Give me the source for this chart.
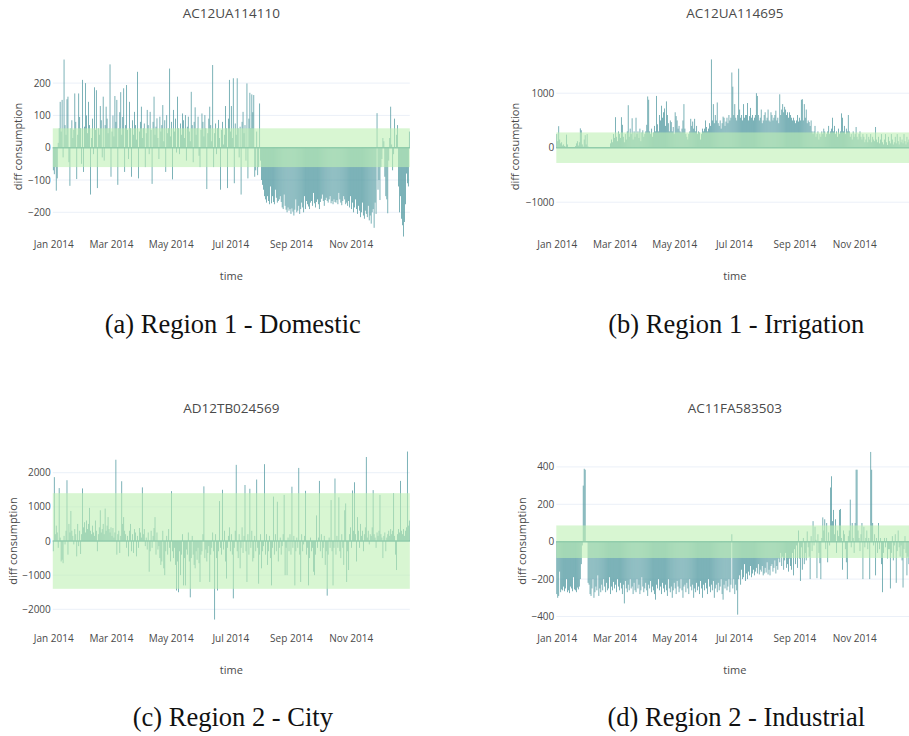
<!DOCTYPE html>
<html>
<head>
<meta charset="utf-8">
<script src="https://cdn.jsdelivr.net/npm/d3@7"></script>
<style>
  body { margin: 0; background: #fff; }
  svg { display: block; }
</style>
</head>
<body>
<div id="chart"></div>
<script>
// daily diff consumption, Jan 1 - Dec 31 2014, one array per meter
const domestic = [
  -70, -82, -60, -133, -95, 15, 60, 142, 50, 148,
  -30, 273, 70, 40, 150, 158, -45, -118, 60, 85,
  30, 55, 168, 80, -97, 40, 168, 95, 60, -50,
  210, -75, 65, 200, 100, 45, 142, 70, -145, 30,
  90, -20, 187, 55, 178, -125, 60, 40, 129, 85,
  -30, 158, -40, 70, 127, 90, 45, 60, 258, -90,
  50, 100, 35, 160, 80, 148, -115, 60, 110, 172,
  40, 95, 184, -75, 70, 194, 55, -35, 142, 60,
  -90, 85, 40, 111, 70, 25, 235, -95, 50, 80,
  127, 30, 60, 75, -60, 45, 117, 70, -20, 111,
  55, -112, 80, 158, 40, 65, 91, 30, -35, 96,
  50, 70, 132, 20, 85, -75, 101, 45, 60, 245,
  35, 80, -98, 117, 50, 90, -15, 158, 60, -20,
  75, 40, 106, 85, 30, 101, -40, 65, 96, 50,
  20, 173, 70, -45, 80, 125, 40, 60, 96, -25,
  -60, 55, 106, 80, 35, 101, 60, -128, 45, 90,
  127, 70, 20, 256, -60, 45, 75, -20, 60, 86,
  30, -130, 55, 80, 10, 40, 129, 60, -125, 90,
  210, 50, 129, 30, 215, -110, 75, 40, 215, 60,
  -30, 65, -145, 80, 111, 45, 70, -40, 199, -95,
  90, 170, 60, 165, 110, 163, -90, -70, 50, -85,
  -60, 137, -40, -100, -115, -130, -150, -160, -170, -150,
  -165, -175, -120, -172, -150, -168, -175, -130, -155, -170,
  -165, -160, -150, -168, -185, -190, -145, -180, -192, -200,
  -185, -195, -190, -205, -188, -198, -210, -192, -160, -200,
  -195, -180, -205, -190, -170, -185, -200, -150, -190, -165,
  -175, -182, -190, -170, -165, -180, -140, -172, -185, -168,
  -160, -175, -190, -168, -158, -145, -165, -180, -162, -155,
  -165, -170, -160, -150, -172, -165, -175, -160, -168, -170,
  -162, -175, -140, -160, -170, -178, -165, -150, -160, -175,
  -170, -180, -165, -185, -150, -190, -170, -200, -185, -160,
  -190, -205, -180, -195, -215, -200, -170, -210, -220, -195,
  -205, -215, -180, -225, -210, -235, -200, -190, -248, -170,
  -205, 107, -130, -100, -162, -60, -35, 30, 20, -90,
  -150, -160, -203, -40, 30, 127, 10, -70, -20, 90,
  0, 40, 70, -120, -200, -150, -220, -240, -275, -230,
  -175, -80, -110, -120, 50
]

const irrigation = [
  250, 120, 395, 150, 80, 100, 40, 60, 30, 20,
  240, 60, 0, 0, 0, 0, 0, 0, 0, 30,
  80, 120, 40, 100, 355, 320, 60, 20, 150, 230,
  60, 250, 20, 0, 0, 0, 0, 0, 0, 0,
  0, 0, 0, 0, 0, 0, 0, 0, 0, 0,
  0, 0, 0, 0, 0, 80, 150, 100, 250, 180,
  560, 200, 120, 300, 250, 180, 560, 420, 200, 100,
  250, 150, 300, 780, 200, 350, 250, 540, 150, 300,
  200, 550, 250, 300, 180, 350, 120, 280, 320, 200,
  250, 300, 420, 940, 880, 300, 250, 350, 200, 280,
  400, 300, 950, 430, 300, 600, 500, 770, 550, 650,
  720, 400, 850, 600, 450, 300, 500, 470, 300, 380,
  250, 650, 580, 500, 350, 400, 300, 280, 350, 500,
  800, 350, 250, 200, 150, 250, 300, 530, 400, 480,
  350, 530, 300, 400, 250, 300, 280, 150, 250, 350,
  300, 350, 500, 380, 300, 350, 450, 400, 1620, 500,
  800, 450, 600, 500, 830, 450, 400, 500, 350, 450,
  570, 550, 400, 480, 550, 450, 600, 500, 550, 1380,
  1120, 600, 800, 550, 500, 600, 1450, 700, 550, 600,
  500, 800, 550, 600, 600, 820, 500, 580, 730, 550,
  600, 500, 550, 600, 1000, 950, 600, 500, 550, 700,
  450, 500, 600, 650, 500, 550, 700, 500, 480, 650,
  600, 500, 550, 600, 680, 500, 550, 450, 980, 600,
  700, 800, 650, 750, 700, 600, 650, 550, 650, 600,
  550, 500, 550, 500, 450, 500, 600, 480, 550, 500,
  880, 890, 500, 800, 550, 700, 450, 500, 470, 400,
  500, 300, 250, 300, 400, 200, 250, 300, 150, 250,
  200, 300, 250, 350, 300, 200, 250, 300, 400, 250,
  300, 350, 550, 300, 400, 250, 300, 200, 350, 250,
  300, 630, 550, 300, 400, 250, 350, 300, 600, 300,
  200, 250, 150, 300, 200, 250, 380, 200, 150, 250,
  300, 200, 150, 250, 200, 100, 150, 250, 100, 200,
  150, 250, 100, 200, 150, 120, 380, 150, 100, 200,
  80, 150, 250, 100, 60, 150, 250, 100, 50, 200,
  120, 80, 250, 150, 60, 100, 200, 80, 250, 120,
  60, 200, 100, 150, 80, 250, 120, 60, 200, 100,
  150, 80, 200, 120, 100
]

const city = [
  -300, 1870, 200, 450, 250, -200, 1550, 100, -600, -550,
  -650, 150, -100, 300, 1780, -400, 500, 250, 880, 300,
  150, -100, 350, 200, -450, 500, -150, 300, -380, 200,
  1540, 400, 550, 250, 600, 350, 500, 970, 300, 200,
  450, 250, 150, 600, 300, -300, 200, 400, 900, 250,
  350, 500, 200, 950, 300, 450, 700, 350, 250, 400,
  150, 380, 100, 250, 2380, -400, 200, 300, -350, 150,
  1750, 500, 700, 300, 200, -200, 150, -450, 300, 500,
  -300, 200, -350, 350, 250, -450, 150, -200, 380, 250,
  100, 1570, 200, 350, -150, 100, -250, 250, -900, -300,
  300, -200, 150, 380, 700, -400, 250, -250, -150, -500,
  -700, -600, 300, -800, -1000, -300, 150, -400, 350, -200,
  -600, 1460, -300, -500, -200, -700, -1450, -600, -1500, -300,
  -1000, -400, 200, -1300, -500, -1300, -250, -400, 250, -600,
  -1650, -500, 150, -400, -700, -800, -300, -550, -200, -650,
  -1200, -400, -300, 200, 1600, -500, -250, -600, -350, -150,
  -1200, -400, -200, 250, -300, -2300, 200, -500, -1450, -300,
  1170, -200, -400, 1500, -250, 300, -600, -1100, -200, 150,
  400, -300, 200, -400, -1680, -200, 300, 2230, -300, -500,
  200, -800, -200, 400, -350, 150, 1640, -300, -1200, 200,
  -400, 1530, -200, 300, -600, -500, 150, -300, 1800, -200,
  -1250, -400, 200, -800, -300, -150, 2250, -400, 200, -700,
  -300, 150, -500, -1300, -200, 1300, -400, 200, -300, 1150,
  -600, -200, 100, -400, -150, 200, 1350, -1000, -200, -1000,
  100, -300, 200, -400, 1590, -200, 150, -1300, -300, 100,
  -200, 2140, -400, -1200, 200, -300, -100, 150, 1470, -400,
  -200, -1300, -500, 100, -300, -200, -900, -1000, -400, 750,
  -200, 100, 1760, -300, 200, -500, -200, 150, -700, -300,
  -1600, -400, 100, -200, 1200, -300, -1300, -200, 1830, -400,
  150, -200, 1280, -300, -500, 200, -200, -700, 900, 1100,
  -1200, -300, -850, 200, 400, -200, 1480, 300, 1720, 200,
  -600, 700, 300, -200, 500, 150, 300, -300, 200, 400,
  2460, 100, 300, -100, 200, 150, 400, 1490, 200, 100,
  -200, 250, 150, 300, 1350, 200, 100, -500, 150, 250,
  -300, 100, 200, 300, 150, 350, 200, 300, 1400, 150,
  -400, -850, 200, 350, 250, 1760, 300, 200, 350, 150,
  300, 400, 2620, 450, 600
]

const industrial = [
  -280, -300, -290, -160, -270, -255, -260, -240, -265, -250,
  -200, -270, -260, -275, -240, -250, -265, -190, -255, -260,
  -270, -245, -255, -240, -200, -120, -20, 300, 390, 385,
  0, 0, -220, -230, -280, -290, -250, -200, -300, -270,
  -240, -260, -180, -290, -250, -270, -230, -260, -200, -240,
  -270, -220, -260, -250, -190, -280, -240, -260, -215, -250,
  -230, -270, -200, -240, -260, -220, -250, -280, -230, -330,
  -210, -250, -270, -230, -260, -200, -250, -240, -280, -220,
  -260, -270, -200, -250, -230, -280, -260, -190, -240, -270,
  -250, -220, -260, -290, -230, -250, -210, -270, -240, -260,
  -280, -310, -230, -250, -200, -260, -240, -280, -220, -250,
  -270, -230, -260, -290, -200, -250, -270, -240, -300, -260,
  -220, -250, -280, -210, -240, -270, -250, -200, -260, -300,
  -240, -230, -270, -220, -250, -280, -200, -240, -260, -230,
  -300, -250, -270, -220, -260, -240, -280, -210, -250, -300,
  -230, -260, -220, -250, -280, -200, -240, -270, -230, -260,
  -210, -300, -250, -230, -270, -220, -260, -240, -200, -280,
  -310, -230, -250, -210, -260, -240, -200, -270, -230, 40,
  -250, -200, -280, -230, -260, -390, -200, -180, -230, -150,
  -200, -190, -120, -210, -170, -200, -160, -180, -130, -190,
  -170, -150, -180, -160, -140, -170, -120, -175, -150, -160,
  -130, -180, -170, -140, -165, -110, -175, -150, -180, -130,
  -120, -160, -140, -100, -170, -130, -150, -90, -110, -60,
  -130, -80, -150, -100, -60, -140, -120, -160, -90, -130,
  -150, -60, -180, -40, -120, -20, -140, 60, -90, -210,
  -30, -150, 20, -120, -60, -100, 55, -30, -80, -200,
  30, -50, 110, -20, 80, 10, -195, 40, -60, -115,
  -200, 20, 130, 60, 120, -40, 100, -110, 50, -20,
  290, 350, 110, 170, 40, 120, -60, 60, 30, 170,
  175, 20, -150, 60, 40, -40, -110, -200, 30, 60,
  225, -30, 100, 20, -60, 100, 385, 385, 60, 20,
  -50, 40, 100, -200, 80, -30, 20, 60, -40, 20,
  -200, 480, 385, 100, -20, 40, -180, 20, -60, 100,
  -40, 20, -120, -270, -60, 20, -30, 20, -90, -40,
  -40, -250, -60, 30, -100, -20, 40, -220, -50, 60,
  -30, -80, -20, -100, -245, -40, 30, -60, -180, -80,
  -120, -150, -40, 20, -100
]

const meterIds = ['AC12UA114110', 'AC12UA114695', 'AD12TB024569', 'AC11FA583503']
const captions = [
  '(a) Region 1 - Domestic',
  '(b) Region 1 - Irrigation',
  '(c) Region 2 - City',
  '(d) Region 2 - Industrial'
]
const thresholds = [60, 280, 1400, 87]
const yTickValues = [
  [-200, -100, 0, 100, 200],
  [-1000, 0, 1000],
  [-2000, -1000, 0, 1000, 2000],
  [-400, -200, 0, 200, 400]
]
const xTickLabels = ['Jan 2014', 'Mar 2014', 'May 2014', 'Jul 2014', 'Sep 2014', 'Nov 2014']
const startDate = '2014-01-01'

// where each plotly panel sits on the page
const frames = [
  { left: 52.8, top: 55, bottom: 238, zero: 147.7, unit: 0.323, titleX: 18, capY: 333 },
  { left: 556.3, top: 55, bottom: 238, zero: 147.7, unit: 0.0545, titleX: 515, capY: 333 },
  { left: 52.8, top: 450, bottom: 632, zero: 541, unit: 0.03415, titleX: 13, capY: 726 },
  { left: 556.3, top: 450, bottom: 632, zero: 541.7, unit: 0.187, titleX: 521.7, capY: 726 }
]
const plotWidth = 357

const width = 909
const height = 736

const barColor = '#4f989f'
const bandColor = '#bef0b4'
const gridColor = '#ebf0f8'
const textColor = '#4a4a4a'

const parseDay = d3.timeParse('%Y-%m-%d')
const parseTick = d3.timeParse('%b %Y')
const day0 = parseDay(startDate)

const svg = d3
  .select('#chart')
  .append('svg')
  .attr('width', width)
  .attr('height', height)

const series = [domestic, irrigation, city, industrial]

series.forEach((values, i) => {
  const f = frames[i]
  const g = svg.append('g')

  const xPositionScale = d3
    .scaleTime()
    .domain([d3.timeHour.offset(day0, -12), d3.timeHour.offset(d3.timeDay.offset(day0, 364), 12)])
    .range([f.left, f.left + plotWidth])

  const yPositionScale = d3
    .scaleLinear()
    .domain([-(f.bottom - f.zero) / f.unit, (f.zero - f.top) / f.unit])
    .range([f.bottom, f.top])

  const right = f.left + plotWidth
  const dayPx = plotWidth / 365
  const datapoints = values.map((v, k) => ({ date: d3.timeDay.offset(day0, k), value: v }))

  // gridlines
  g.selectAll('.grid')
    .data(yTickValues[i])
    .enter()
    .append('line')
    .attr('x1', f.left)
    .attr('x2', right)
    .attr('y1', d => yPositionScale(d))
    .attr('y2', d => yPositionScale(d))
    .attr('stroke', gridColor)
    .attr('stroke-width', 1)

  // zero line
  g.append('line')
    .attr('x1', f.left)
    .attr('x2', right)
    .attr('y1', yPositionScale(0))
    .attr('y2', yPositionScale(0))
    .attr('stroke', barColor)
    .attr('stroke-width', 1.5)

  g.selectAll('.bar')
    .data(datapoints)
    .enter()
    .append('rect')
    .attr('class', 'bar')
    .attr('x', d => xPositionScale(d.date) - dayPx * 0.38)
    .attr('width', dayPx * 0.76)
    .attr('y', d => Math.min(yPositionScale(d.value), yPositionScale(0)))
    .attr('height', d => Math.abs(yPositionScale(d.value) - yPositionScale(0)))
    .attr('fill', barColor)

  // normal range band drawn over the bars
  g.append('rect')
    .attr('x', f.left)
    .attr('width', plotWidth)
    .attr('y', yPositionScale(thresholds[i]))
    .attr('height', yPositionScale(-thresholds[i]) - yPositionScale(thresholds[i]))
    .attr('fill', bandColor)
    .attr('opacity', 0.6)

  // y tick labels
  g.selectAll('.ytick')
    .data(yTickValues[i])
    .enter()
    .append('text')
    .attr('x', f.left - 2)
    .attr('y', d => yPositionScale(d))
    .attr('dy', '0.35em')
    .attr('text-anchor', 'end')
    .attr('font-family', 'Open Sans, sans-serif')
    .attr('font-size', 10)
    .attr('fill', textColor)
    .text(d => (d < 0 ? '\u2212' + Math.abs(d) : d))

  // x tick labels
  const xAxis = d3
    .axisBottom(xPositionScale)
    .tickValues(xTickLabels.map(parseTick))
    .tickFormat(d3.timeFormat('%b %Y'))
    .tickSize(0)
    .tickPadding(0)
  const ax = g
    .append('g')
    .attr('transform', 'translate(0,' + (f.bottom + 9.5) + ')')
    .call(xAxis)
  ax.select('.domain').remove()
  ax.selectAll('text')
    .attr('dy', 0)
    .attr('y', 0)
    .attr('font-family', 'Open Sans, sans-serif')
    .attr('font-size', 10)
    .attr('fill', textColor)

  // titles
  g.append('text')
    .attr('x', f.left + plotWidth / 2)
    .attr('y', f.top - 37)
    .attr('text-anchor', 'middle')
    .attr('font-family', 'Open Sans, sans-serif')
    .attr('font-size', 13.5)
    .attr('fill', textColor)
    .text(meterIds[i])

  g.append('text')
    .attr('x', f.left + plotWidth / 2)
    .attr('y', f.bottom + 41.5)
    .attr('text-anchor', 'middle')
    .attr('font-family', 'Open Sans, sans-serif')
    .attr('font-size', 11)
    .attr('fill', textColor)
    .text('time')

  g.append('text')
    .attr('transform', 'translate(' + f.titleX + ',' + (f.top + f.bottom) / 2 + ') rotate(-90)')
    .attr('dy', '0.35em')
    .attr('text-anchor', 'middle')
    .attr('font-family', 'Open Sans, sans-serif')
    .attr('font-size', 11)
    .attr('fill', textColor)
    .text('diff consumption')

  // figure caption
  svg.append('text')
    .attr('x', f.left + plotWidth / 2 + 1.5)
    .attr('y', f.capY)
    .attr('text-anchor', 'middle')
    .attr('font-family', 'Liberation Serif, serif')
    .attr('font-size', 26.5)
    .attr('fill', '#111')
    .text(captions[i])
})
</script>
</body>
</html>
